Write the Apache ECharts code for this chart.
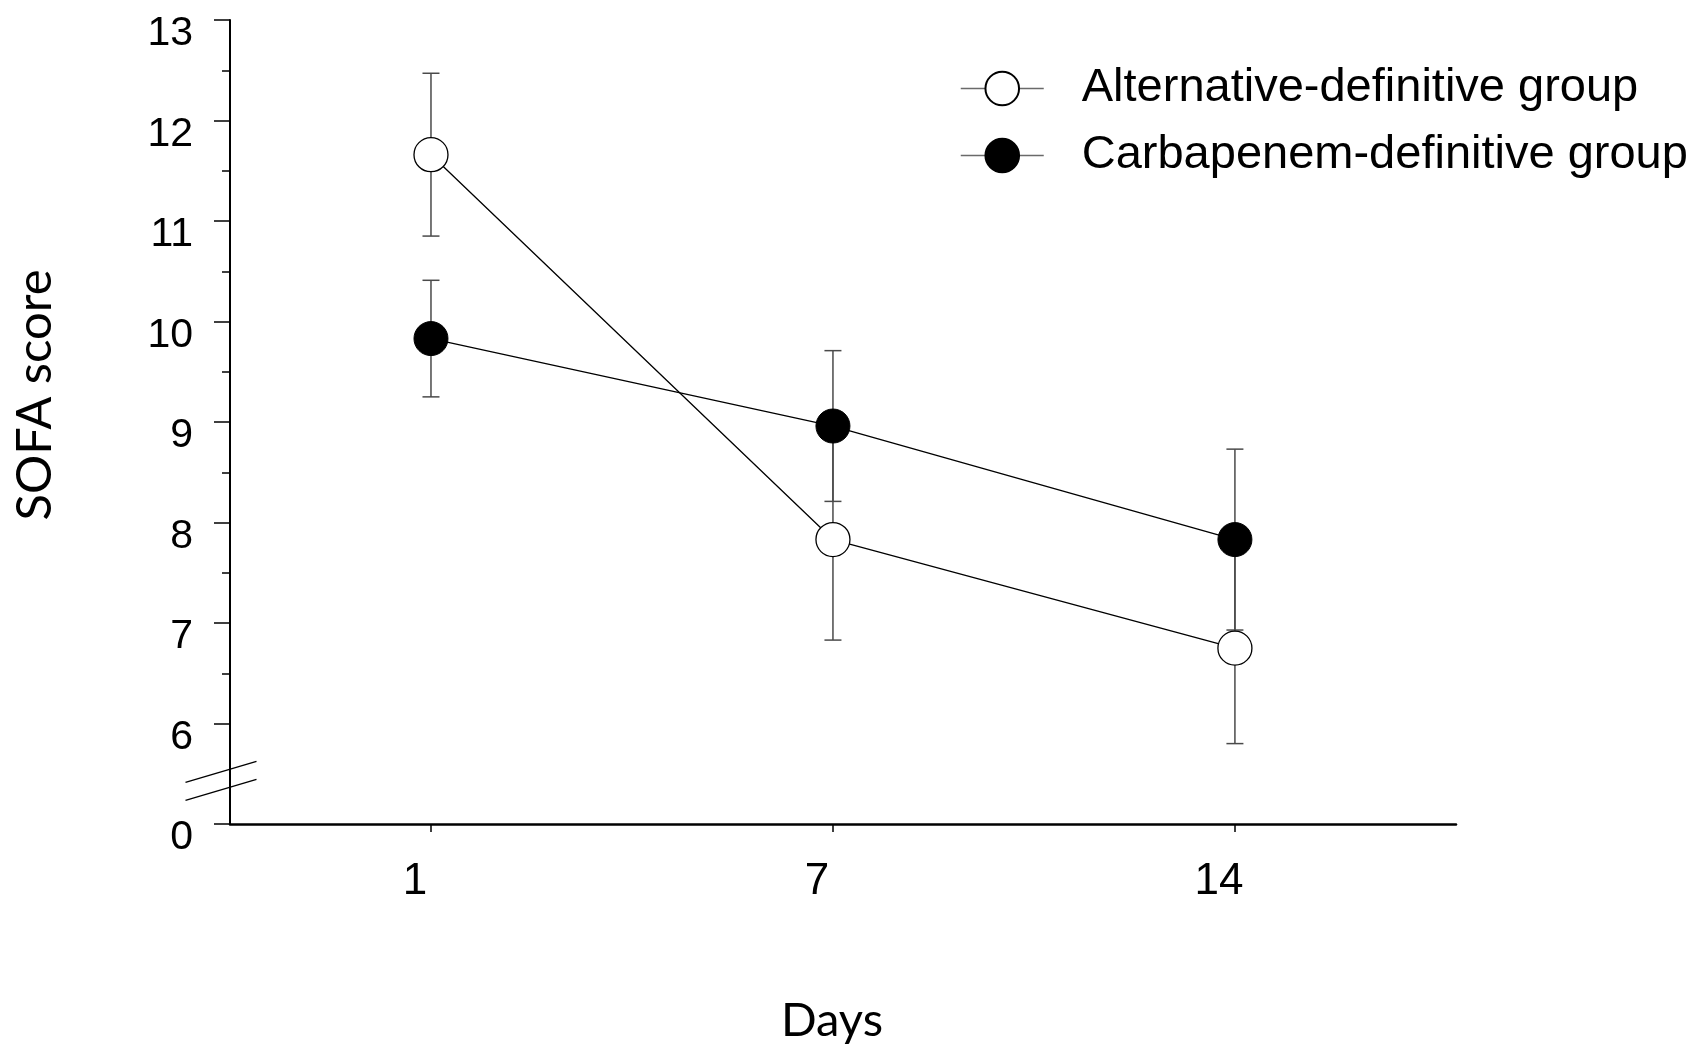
<!DOCTYPE html>
<html><head><meta charset="utf-8">
<script src="https://cdn.jsdelivr.net/npm/echarts@6/dist/echarts.min.js"></script>
<style>html,body{margin:0;padding:0;background:#fff}#c{width:1703px;height:1052px}</style>
</head><body><div id="c"></div>
<script>
// ---- data ----
const days = ['1', '7', '14'];
const altName = 'Alternative-definitive group';
const carbName = 'Carbapenem-definitive group';
const altMean = [11.66, 7.83, 6.75];
const altErr = [0.81, 1.0, 0.95];
const carbMean = [9.83, 8.96, 7.83];
const carbErr = [0.58, 0.75, 0.90];
const yTicks = [5, 6, 7, 8, 9, 10, 11, 12, 13];
const yTickLabels = ['0', '6', '7', '8', '9', '10', '11', '12', '13'];
const yMinorTicks = [6.5, 7.5, 8.5, 9.5, 10.5, 11.5, 12.5];
const breakValue = 5.43;

const FONT = '"Liberation Sans", Arial, sans-serif';
const TITLE_FONT = 'Lato, "Open Sans", sans-serif';

const xIdx = days.map((d, i) => i);
function errData(mean, err) {
  return mean.map((m, i) => [xIdx[i], m - err[i], m + err[i]]);
}
function errRender(params, api) {
  const x = api.value(0), lo = api.value(1), hi = api.value(2);
  const pLo = api.coord([x, lo]), pHi = api.coord([x, hi]);
  const w = 8.5;
  const style = { stroke: '#4a4a4a', lineWidth: 1.5 };
  return {
    type: 'group', children: [
      { type: 'line', shape: { x1: pLo[0], y1: pLo[1], x2: pHi[0], y2: pHi[1] }, style },
      { type: 'line', shape: { x1: pHi[0] - w, y1: pHi[1], x2: pHi[0] + w, y2: pHi[1] }, style },
      { type: 'line', shape: { x1: pLo[0] - w, y1: pLo[1], x2: pLo[0] + w, y2: pLo[1] }, style }
    ]
  };
}

const chart = echarts.init(document.getElementById('c'), null, { renderer: 'canvas' });
chart.setOption({
  animation: false,
  backgroundColor: '#fff',
  textStyle: { fontFamily: FONT, color: '#000' },
  grid: { left: 230, right: 247, top: 20, bottom: 228, containLabel: false },
  legend: {
    data: [altName, carbName],
    orient: 'vertical',
    left: 955, top: 60,
    itemWidth: 83, itemHeight: 42, itemGap: 20,
    lineStyle: { color: '#6a6a6a', width: 1.5 },
    textStyle: { fontFamily: FONT, fontSize: 47, color: '#000', lineHeight: 42, padding: [0, 0, 0, 33] }
  },
  xAxis: {
    type: 'value', min: -0.5, max: 2.55,
    axisLine: { show: true, onZero: false, lineStyle: { color: '#000', width: 2.5 } },
    axisTick: { show: true, customValues: xIdx, length: 8, lineStyle: { color: '#000', width: 1.5 } },
    axisLabel: {
      customValues: xIdx, formatter: v => days[Math.round(v)],
      fontSize: 44, color: '#000', fontFamily: FONT, margin: 36, padding: [0, 32, 0, 0]
    },
    splitLine: { show: false }
  },
  yAxis: [{
    type: 'value', min: 5, max: 13, interval: 1,
    axisLine: { show: true, onZero: false, lineStyle: { color: '#000', width: 2 } },
    axisTick: { show: true, length: 16, lineStyle: { color: '#000', width: 1.5 } },
    axisLabel: {
      formatter: v => yTickLabels[yTicks.indexOf(v)],
      fontSize: 41, color: '#000', fontFamily: FONT, margin: 37,
      verticalAlign: 'top', lineHeight: 28
    },
    splitLine: { show: false }
  }, {
    type: 'value', min: 5, max: 13, position: 'left', offset: 0,
    axisLine: { show: false, onZero: false },
    axisTick: { show: true, customValues: yMinorTicks, length: 8, lineStyle: { color: '#000', width: 1.5 } },
    axisLabel: { show: false },
    splitLine: { show: false }
  }],
  series: [
    {
      type: 'custom', name: altName + ' SE', renderItem: errRender, z: 1, clip: false,
      data: errData(altMean, altErr), encode: { x: 0, y: [1, 2] }
    },
    {
      type: 'custom', name: carbName + ' SE', renderItem: errRender, z: 1, clip: false,
      data: errData(carbMean, carbErr), encode: { x: 0, y: [1, 2] }
    },
    {
      type: 'line', name: altName, z: 3,
      data: altMean.map((m, i) => [xIdx[i], m]),
      symbol: 'circle', symbolSize: 34,
      lineStyle: { color: '#000', width: 1.3 },
      itemStyle: { color: '#fff', borderColor: '#000', borderWidth: 1.3 }
    },
    {
      type: 'line', name: carbName, z: 4,
      data: carbMean.map((m, i) => [xIdx[i], m]),
      symbol: 'circle', symbolSize: 34,
      lineStyle: { color: '#000', width: 1.3 },
      itemStyle: { color: '#000', borderColor: '#000', borderWidth: 1 }
    }
  ]
});

// axis break marks and axis titles
const breakY = chart.convertToPixel({ yAxisIndex: 0 }, breakValue);
const axisX = chart.convertToPixel({ xAxisIndex: 0 }, -0.5);
const breakX = axisX - 9;
const yTopPx = chart.convertToPixel({ yAxisIndex: 0 }, 13);
const yBotPx = chart.convertToPixel({ yAxisIndex: 0 }, 5);
const xMidPx = chart.convertToPixel({ xAxisIndex: 0 }, 1);
chart.setOption({
  graphic: [
    { type: 'line', shape: { x1: breakX - 35.5, y1: breakY - 9 + 10.5, x2: breakX + 35.5, y2: breakY - 9 - 10.5 }, style: { stroke: '#000', lineWidth: 1.3 }, z: 10 },
    { type: 'line', shape: { x1: breakX - 35.5, y1: breakY + 9 + 10.5, x2: breakX + 35.5, y2: breakY + 9 - 10.5 }, style: { stroke: '#000', lineWidth: 1.3 }, z: 10 },
    {
      type: 'text', x: 35, y: (yTopPx + yBotPx) / 2 - 27, rotation: Math.PI / 2,
      style: { text: 'SOFA score', fontFamily: TITLE_FONT, fontSize: 49, fill: '#000', align: 'center', verticalAlign: 'middle' }
    },
    {
      type: 'text', x: xMidPx - 1, y: 1021,
      style: { text: 'Days', fontFamily: TITLE_FONT, fontSize: 47, fill: '#000', align: 'center', verticalAlign: 'middle' }
    }
  ]
});
</script></body></html>
